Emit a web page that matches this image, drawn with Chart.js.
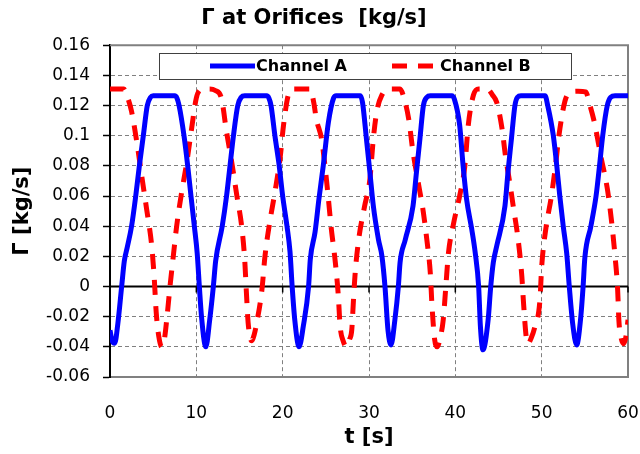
<!DOCTYPE html>
<html>
<head>
<meta charset="utf-8">
<script src="https://cdn.jsdelivr.net/npm/chart.js@4/dist/chart.umd.min.js"></script>
<style>
  html, body { margin: 0; padding: 0; background: #fff; }
</style>
</head>
<body>
<canvas id="chart" width="640" height="454"></canvas>
<script>
// Channel A (solid blue) - time [s] and flow [kg/s]
const tA = [0, 0.25, 0.55, 0.9, 1.35, 1.66, 2.0, 2.5, 2.98, 3.4, 3.86, 4.32, 4.7, 5.0,
  7.5, 7.75, 8.0, 8.57, 9.0, 9.38, 9.77, 10.1, 10.35, 10.6, 11.1, 11.55, 11.97, 12.24,
  13.0, 13.5, 13.9, 14.3, 14.8, 15.2, 15.6, 18.15, 18.4, 18.65, 19.1, 19.6, 20.0, 20.5,
  20.85, 21.1, 21.4, 21.9, 22.4, 23.0, 23.2, 23.75, 24.2, 24.7, 25.3, 25.9, 26.2,
  29.0, 29.25, 29.7, 30.1, 30.5, 31.1, 31.5, 31.85, 32.2, 32.55, 33.0, 33.4, 33.6,
  34.2, 35.1, 35.5, 35.9, 36.3, 36.7, 37.1, 39.6, 39.9, 40.5, 40.9, 41.3, 41.9, 42.3,
  42.7, 42.9, 43.2, 43.8, 44.1, 44.4, 44.8, 45.75, 46.1, 46.5, 46.9, 47.2, 47.6,
  50.4, 50.7, 51.35, 51.75, 52.1, 52.5, 52.9, 53.2, 53.6, 54.06, 54.5, 54.8, 55.0,
  55.7, 56.3, 56.7, 57.07, 57.6, 58.0, 58.5, 60];
const gA = [-0.029, -0.036, -0.0376, -0.025, 0.0, 0.017, 0.026, 0.04, 0.06, 0.08, 0.1, 0.12, 0.1255, 0.1265,
  0.1265, 0.125, 0.12, 0.1, 0.08, 0.06, 0.04, 0.022, 0.0, -0.02, -0.040, -0.022, 0.0, 0.017,
  0.04, 0.06, 0.08, 0.1, 0.12, 0.1255, 0.1265, 0.1265, 0.125, 0.12, 0.1, 0.08, 0.06, 0.04,
  0.023, 0.0, -0.022, -0.040, -0.026, 0.0, 0.018, 0.036, 0.058, 0.08, 0.109, 0.125, 0.1265,
  0.1265, 0.122, 0.098, 0.076, 0.0535, 0.031, 0.02, 0.0, -0.029, -0.0387, -0.022, 0.0, 0.016,
  0.031, 0.0535, 0.076, 0.098, 0.12, 0.1255, 0.1265, 0.1265, 0.124, 0.107, 0.08, 0.058, 0.038, 0.0225,
  0.0, -0.026, -0.042, -0.022, 0.0, 0.016, 0.027, 0.0535, 0.076, 0.098, 0.12, 0.1255, 0.1265,
  0.1265, 0.12, 0.1, 0.08, 0.06, 0.04, 0.022, 0.0, -0.025, -0.0387, -0.022, 0.0, 0.019,
  0.04, 0.06, 0.08, 0.1, 0.12, 0.1255, 0.1265, 0.1265];

// Channel B (dashed red)
const tB = [0, 1.6, 2.0, 2.5, 3.1, 3.67, 4.25, 4.83, 5.13, 5.35, 5.65, 6.0, 6.3, 6.57, 6.95,
  7.33, 7.72, 8.3, 8.9, 9.46, 10.0, 10.5, 11.5, 12.2, 12.9, 13.5, 14.1, 14.7, 15.25, 15.6,
  15.8, 16.0, 16.4, 16.7, 17.0, 17.6, 17.95, 18.5, 19.1, 19.7, 20.1, 20.65, 21.2, 23.2,
  23.6, 23.9, 24.5, 24.8, 25.3, 25.6, 26.1, 26.45, 26.65, 27.0, 27.4, 27.75, 28.0, 28.2,
  28.4, 28.8, 29.5, 30.1, 30.5, 30.9, 31.5, 32.3, 33.6, 34.1, 34.6, 35.1, 35.7, 36.3,
  36.7, 37.1, 37.3, 37.6, 37.9, 38.25, 38.6, 38.9, 39.2, 39.8, 40.5, 41.1, 41.5, 42.1,
  42.7, 43.7, 44.3, 44.8, 45.4, 45.8, 46.3, 46.7, 47.3, 47.7, 47.9, 48.2, 48.4,
  48.8, 49.2, 49.8, 50.0, 50.5, 51.1, 51.6, 52.0, 52.7, 53.3, 54.2, 55.1, 55.6, 56.1,
  56.9, 57.6, 58.1, 58.5, 58.8, 58.95, 59.2, 59.5, 59.8, 60];
const gB = [0.131, 0.131, 0.126, 0.116, 0.096, 0.0735, 0.051, 0.027, 0.005, -0.017, -0.033, -0.040, -0.035, -0.022, 0.0,
  0.02, 0.04, 0.0625, 0.0825, 0.105, 0.125, 0.1305, 0.131, 0.13, 0.125, 0.1025, 0.0825, 0.06, 0.04, 0.018,
  -0.004, -0.024, -0.036, -0.032, -0.024, -0.002, 0.02, 0.0425, 0.0625, 0.085, 0.107, 0.127, 0.131, 0.131,
  0.122, 0.111, 0.098, 0.085, 0.058, 0.04, 0.016, -0.0065, -0.026, -0.036, -0.040, -0.035, -0.029, -0.009,
  0.009, 0.031, 0.0535, 0.071, 0.098, 0.116, 0.127, 0.131, 0.131, 0.124, 0.111, 0.089, 0.069, 0.049,
  0.031, 0.009, -0.013, -0.035, -0.040, -0.034, -0.022, 0.0, 0.022, 0.042, 0.06, 0.08, 0.107, 0.127,
  0.131, 0.131, 0.127, 0.122, 0.105, 0.087, 0.069, 0.0535, 0.03, 0.007, -0.011, -0.033, -0.038,
  -0.034, -0.027, -0.009, 0.013, 0.039, 0.059, 0.08, 0.1, 0.123, 0.129, 0.1295, 0.129, 0.12, 0.109,
  0.085, 0.065, 0.043, 0.02, -0.002, -0.023, -0.034, -0.038, -0.032, -0.022];

const xTicks = [0, 10, 20, 30, 40, 50, 60];
const yTicks = [-0.06, -0.04, -0.02, 0, 0.02, 0.04, 0.06, 0.08, 0.1, 0.12, 0.14, 0.16];

const FONT = '"DejaVu Sans", sans-serif';
const gridGray = '#808080';

// gray frame, black zero line with small ticks
const framePlugin = {
  id: 'frame',
  beforeDatasetsDraw(chart) {
    const { ctx, chartArea: a, scales } = chart;
    ctx.save();
    ctx.strokeStyle = gridGray;
    ctx.lineWidth = 2;
    ctx.beginPath();
    ctx.moveTo(a.left, a.top);
    ctx.lineTo(a.right, a.top);
    ctx.lineTo(a.right, a.bottom);
    ctx.stroke();
    const y0 = scales.y.getPixelForValue(0);
    ctx.strokeStyle = '#000';
    ctx.beginPath();
    ctx.moveTo(a.left, y0);
    ctx.lineTo(a.right, y0);
    ctx.stroke();
    ctx.lineWidth = 1.5;
    xTicks.forEach(v => {
      const x = scales.x.getPixelForValue(v);
      ctx.beginPath();
      ctx.moveTo(x, y0);
      ctx.lineTo(x, y0 + 6);
      ctx.stroke();
    });
    ctx.restore();
  }
};

// boxed legend inside the plot
const boxLegend = {
  id: 'boxLegend',
  afterDatasetsDraw(chart) {
    const ctx = chart.ctx;
    ctx.save();
    ctx.fillStyle = '#fff';
    ctx.fillRect(159, 53, 412, 26);
    ctx.strokeStyle = '#404040';
    ctx.lineWidth = 1;
    ctx.strokeRect(159.5, 53.5, 412, 26);
    const spots = [[210, 256], [392, 440]];
    chart.data.datasets.forEach((ds, i) => {
      const [lx, tx] = spots[i];
      ctx.beginPath();
      ctx.setLineDash(ds.borderDash || []);
      ctx.strokeStyle = ds.borderColor;
      ctx.lineWidth = ds.borderWidth;
      ctx.moveTo(lx, 66);
      ctx.lineTo(lx + 45, 66);
      ctx.stroke();
      ctx.setLineDash([]);
      ctx.fillStyle = '#000';
      ctx.font = 'bold 16px ' + FONT;
      ctx.textBaseline = 'middle';
      ctx.fillText(ds.label, tx, 67);
    });
    ctx.restore();
  }
};

new Chart(document.getElementById('chart'), {
  type: 'line',
  data: {
    datasets: [
      {
        label: 'Channel A',
        data: tA.map((t, i) => ({ x: t, y: gA[i] })),
        borderColor: '#0000ff',
        borderWidth: 5,
        pointRadius: 0,
        cubicInterpolationMode: 'monotone',
        fill: false
      },
      {
        label: 'Channel B',
        data: tB.map((t, i) => ({ x: t, y: gB[i] })),
        borderColor: '#ff0000',
        borderWidth: 5,
        borderDash: [15, 11],
        pointRadius: 0,
        cubicInterpolationMode: 'monotone',
        fill: false
      }
    ]
  },
  options: {
    responsive: false,
    animation: false,
    layout: { padding: { left: 0, right: 12, top: 0, bottom: 0 } },
    plugins: {
      legend: { display: false },
      tooltip: { enabled: false },
      title: {
        display: true,
        text: 'Γ at Orifices  [kg/s]',
        color: '#000',
        font: { family: FONT, size: 21, weight: 'bold' },
        padding: { top: 6, bottom: 14 }
      }
    },
    scales: {
      x: {
        type: 'linear',
        min: 0,
        max: 60,
        afterBuildTicks: s => { s.ticks = xTicks.map(v => ({ value: v })); },
        afterFit: s => { s.height = 77; s.paddingLeft = 0; s.paddingRight = 0; },
        grid: { color: gridGray, lineWidth: 1, drawTicks: false },
        border: { color: gridGray, width: 2, dash: [4, 3] },
        ticks: {
          color: '#000',
          padding: 26,
          maxRotation: 0,
          font: { family: FONT, size: 17 }
        },
        title: {
          display: true,
          text: 't [s]',
          color: '#000',
          font: { family: FONT, size: 21, weight: 'bold' },
          padding: { top: 0, bottom: 4 }
        }
      },
      y: {
        min: -0.06,
        max: 0.16,
        afterBuildTicks: s => { s.ticks = yTicks.map(v => ({ value: v })); },
        afterFit: s => { s.width = 110; },
        grid: {
          color: c => (c.tick && c.tick.value === 0) ? 'rgba(0,0,0,0)' : gridGray,
          lineWidth: 1,
          tickLength: 7,
          tickColor: '#000',
          tickBorderDash: [],
          tickWidth: 1.5
        },
        border: { color: '#000', width: 2, dash: [4, 3] },
        ticks: {
          color: '#000',
          padding: 13,
          font: { family: FONT, size: 17 },
          callback: v => String(Number(v.toFixed(2)))
        },
        title: {
          display: true,
          text: 'Γ [kg/s]',
          color: '#000',
          font: { family: FONT, size: 21, weight: 'bold' },
          padding: { top: 10, bottom: 0 }
        }
      }
    }
  },
  plugins: [framePlugin, boxLegend]
});
</script>
</body>
</html>
